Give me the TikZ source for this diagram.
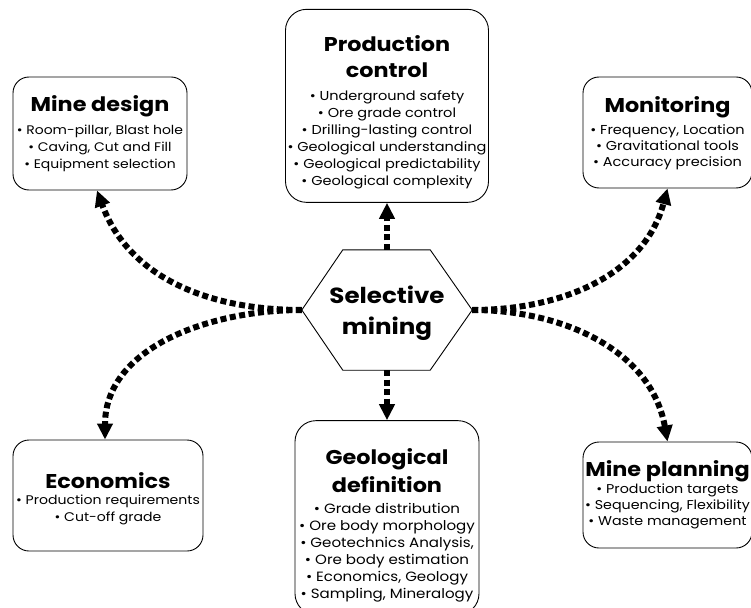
\documentclass[tikz,border=0pt]{standalone}
\usepackage{fontspec}
\setmainfont{Poppins}[FakeStretch=1.12]
\usetikzlibrary{arrows.meta,positioning}

% title line; optional strut height pushes the whole text down
\newcommand{\hd}[2][0bp]{{\fontsize{20}{24}\selectfont\bfseries\rule{0pt}{#1}#2}}

\begin{document}
\begin{tikzpicture}[x=1bp, y=1bp]
        % Define styles
        \tikzset{
            topic/.style={rectangle, draw, rounded corners=16bp, line width=0.9bp, align=center, inner sep=0.5bp, font=\fontsize{12.5}{17}\selectfont},
            link/.style={line width=6bp, dash pattern=on 6bp off 3.5bp, -{Triangle[length=16bp,width=15bp]}}
        }
        \useasboundingbox (0,0) rectangle (751,-608);
        \clip (0,0) rectangle (751,-608);

        % Centre hexagon
        \node [minimum width=170bp, minimum height=120bp, align=center, font=\fontsize{22}{31}\selectfont\bfseries] (hex) at (387,-310) {\rule{0pt}{24bp}Selective\\mining};
        \draw [line width=0.9bp] (hex.west) -- ([xshift=41bp]hex.north west) -- ([xshift=-42bp]hex.north east)
            -- (hex.east) -- ([xshift=-42bp]hex.south east) -- ([xshift=41bp]hex.south west) -- cycle;

        % Create nodes
        \node [topic, rounded corners=21bp, minimum width=203bp, minimum height=193bp, above=47bp of hex, font=\fontsize{13}{17}\selectfont] (control) {\hd[29bp]{Production}\\[9bp] \hd{control}\\[6bp]
            \textbullet{} Underground safety\\ \textbullet{} Ore grade control\\ \textbullet{} Drilling-lasting control\\
            \textbullet{} Geological understanding\\ \textbullet{} Geological predictability\\ \textbullet{} Geological complexity};
        \node [topic, rounded corners=21bp, minimum width=184bp, minimum height=194bp, below=50bp of hex, font=\fontsize{13.5}{17}\selectfont] (geodef) {\hd[31bp]{Geological}\\[6bp] \hd{definition}\\[4bp]
            \textbullet{} Grade distribution\\ \textbullet{} Ore body morphology\\ \textbullet{} Geotechnics Analysis,\\
            \textbullet{} Ore body estimation\\ \textbullet{} Economics, Geology\\ \textbullet{} Sampling, Mineralogy};
        \node [topic, minimum width=174bp, minimum height=113bp] (design) at (100,-133.5) {\hd{Mine design}\\[6bp]
            \textbullet{} Room-pillar, Blast hole\\ \textbullet{} Caving, Cut and Fill\\ \textbullet{} Equipment selection};
        \node [topic, minimum width=169bp, minimum height=111bp, font=\fontsize{13}{15.8}\selectfont] (monitor) at (667.5,-132.5) {\hd[17bp]{Monitoring}\\[7bp]
            \textbullet{} Frequency, Location\\ \textbullet{} Gravitational tools\\ \textbullet{} Accuracy precision};
        \node [topic, minimum width=190bp, minimum height=111bp, font=\fontsize{12.6}{17.5}\selectfont] (economics) at (108,-495.5) {\hd[23bp]{Economics}\\[-2bp]
            \textbullet{} Production requirements\\ \textbullet{} Cut-off grade};
        \node [topic, minimum width=169bp, minimum height=106bp, font=\fontsize{12.8}{16}\selectfont] (planning) at (667.5,-495) {\hd{\makebox[160bp]{Mine planning}}\\[1bp]
            \textbullet{} Production targets\\ \textbullet{} Sequencing, Flexibility\\ \textbullet{} Waste management};

        % Create arrows
        \draw [link] (hex.north) -- (control);
        \draw [link] (hex.south) -- (geodef);
        \draw [link] (hex.west) to[out=180, in=-70] ([xshift=-3bp]design.south);
        \draw [link] (hex.west) to[out=180, in=90] ([xshift=-3bp]economics.north);
        \draw [link] (hex.east) to[out=0, in=-105] (monitor.south);
        \draw [link] (hex.east) to[out=0, in=100] (planning.north);
    \end{tikzpicture}
\end{document}
